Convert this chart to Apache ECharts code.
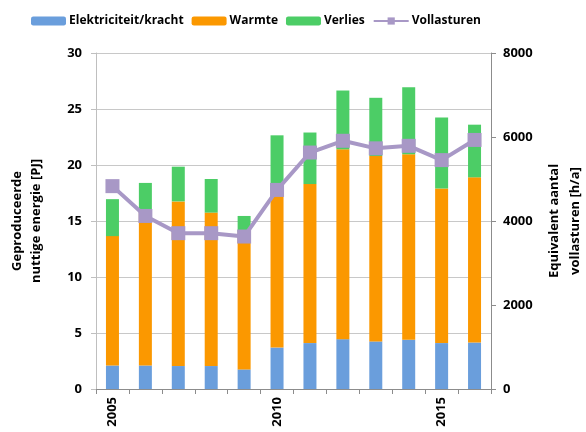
<!DOCTYPE html>
<html>
<head>
<meta charset="utf-8">
<script src="https://cdn.jsdelivr.net/npm/echarts@6/dist/echarts.min.js"></script>
<style>
html, body { margin: 0; padding: 0; background: #fff; }
#chart { width: 586px; height: 432px; }
</style>
</head>
<body>
<div id="chart"></div>
<script>
var years = ['2005', '2006', '2007', '2008', '2009', '2010', '2011', '2012', '2013', '2014', '2015', '2016'];
var elektriciteit = [2.1, 2.1, 2.05, 2.05, 1.75, 3.7, 4.1, 4.45, 4.25, 4.4, 4.1, 4.15];
var warmte = [11.55, 13.8, 14.7, 13.7, 12.25, 14.0, 14.2, 16.95, 16.55, 16.55, 13.8, 14.75];
var verlies = [3.3, 2.5, 3.1, 3.0, 1.45, 4.95, 4.6, 5.25, 5.2, 6.0, 6.35, 4.7];
var vollasturen = [4830, 4120, 3710, 3710, 3630, 4740, 5630, 5910, 5730, 5790, 5450, 5930];

var font = '"Open Sans", "Noto Sans", sans-serif';
var myChart = echarts.init(document.getElementById('chart'));

var option = {
	animation: false,
	textStyle: { fontFamily: font },
	legend: {
		top: 10,
		left: 26,
		itemWidth: 35,
		itemHeight: 9,
		itemGap: 8,
		textStyle: { fontFamily: font, fontSize: 12, fontWeight: 'bold', color: '#000', padding: [0, 0, 0, -2] },
		data: ['Elektriciteit/kracht', 'Warmte', 'Verlies', 'Vollasturen']
	},
	grid: { left: 96, right: 95, top: 53, bottom: 43, containLabel: false, outerBoundsMode: 'none' },
	xAxis: {
		type: 'category',
		data: years,
		axisLine: { lineStyle: { color: '#8c8c8c' } },
		axisTick: { show: true, length: 5, interval: 0, lineStyle: { color: '#8c8c8c' } },
		axisLabel: {
			interval: 4,
			rotate: 90,
			color: '#000',
			fontWeight: 'bold',
			fontSize: 13,
			fontFamily: font,
			margin: 8
		}
	},
	yAxis: [{
		type: 'value',
		min: 0,
		max: 30,
		interval: 5,
		name: 'Geproduceerde\nnuttige energie [PJ]',
		nameLocation: 'middle',
		nameGap: 50,
		nameTextStyle: { color: '#000', fontWeight: 'bold', fontSize: 13, fontFamily: font, lineHeight: 19 },
		axisLine: { show: true, lineStyle: { color: '#bfbfbf' } },
		axisTick: { show: true, length: 5, lineStyle: { color: '#bfbfbf' } },
		axisLabel: { color: '#000', fontWeight: 'bold', fontSize: 13, fontFamily: font, margin: 14 },
		splitLine: { lineStyle: { color: '#c8c8c8', width: 1 } }
	}, {
		type: 'value',
		min: 0,
		max: 8000,
		interval: 2000,
		name: 'Equivalent aantal\nvollasturen [h/a]',
		nameLocation: 'middle',
		nameGap: 53,
		nameRotate: 90,
		nameTextStyle: { color: '#000', fontWeight: 'bold', fontSize: 13, fontFamily: font, lineHeight: 21 },
		axisLine: { show: true, lineStyle: { color: '#8c8c8c' } },
		axisTick: { show: true, length: 5, lineStyle: { color: '#8c8c8c' } },
		axisLabel: {
			color: '#000', fontWeight: 'bold', fontSize: 13, fontFamily: font, margin: 12,
			formatter: function(v) { return String(v); }
		},
		splitLine: { show: false }
	}],
	series: [{
		name: 'Elektriciteit/kracht',
		type: 'bar',
		stack: 'energie',
		barWidth: 13,
		itemStyle: { color: '#6a9edc' },
		data: elektriciteit
	}, {
		name: 'Warmte',
		type: 'bar',
		stack: 'energie',
		barWidth: 13,
		itemStyle: { color: '#fb9800' },
		data: warmte
	}, {
		name: 'Verlies',
		type: 'bar',
		stack: 'energie',
		barWidth: 13,
		itemStyle: { color: '#4ccd66' },
		data: verlies
	}, {
		name: 'Vollasturen',
		type: 'line',
		yAxisIndex: 1,
		symbol: 'rect',
		symbolSize: 14,
		lineStyle: { color: '#a898c6', width: 4 },
		itemStyle: { color: '#a898c6', borderWidth: 0 },
		z: 5,
		data: vollasturen
	}]
};
myChart.setOption(option);
</script>
</body>
</html>
